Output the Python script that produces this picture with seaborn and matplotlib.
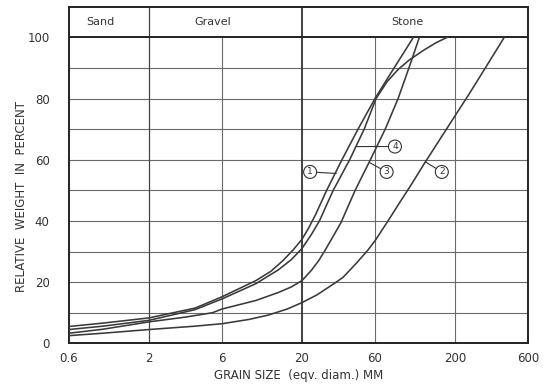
import matplotlib
matplotlib.use("Agg")
import matplotlib.pyplot as plt
import seaborn as sns
import pandas as pd

# ---- data ----
c1_x = [0.6, 1.0, 2.0, 4.0, 6.0, 10.0, 12.5, 15.0, 17.5, 20.0, 22.0, 24.5, 29.0, 36.5, 46.5, 60.0, 80.0, 107.0]
c1_y = [5.5, 6.6, 8.3, 11.5, 15.2, 20.5, 23.5, 27.0, 30.5, 34.0, 37.5, 42.0, 50.0, 60.0, 70.0, 80.0, 90.0, 100.0]

c4_x = [0.6, 1.0, 2.0, 4.0, 6.0, 10.0, 14.0, 17.0, 20.0, 23.0, 26.0, 32.0, 41.0, 51.0, 61.0, 72.0, 85.0, 100.0, 125.0, 150.0, 178.0]
c4_y = [4.5, 5.6, 7.5, 11.0, 14.5, 19.5, 24.0, 27.3, 31.0, 35.5, 40.0, 50.0, 60.0, 70.0, 80.0, 85.5, 89.5, 92.5, 95.8, 98.2, 100.0]

c3_x = [0.6, 1.0, 2.0, 3.5, 5.2, 6.0, 10.0, 14.0, 17.0, 20.0, 23.0, 25.7, 28.0, 32.0, 36.0, 44.5, 56.0, 70.0, 85.0, 100.0, 117.0]
c3_y = [3.3, 4.6, 7.0, 8.6, 10.0, 11.2, 14.0, 16.6, 18.4, 20.5, 23.8, 27.0, 30.0, 35.0, 39.5, 50.0, 60.0, 70.0, 80.0, 90.0, 100.0]

c2_x = [0.6, 1.0, 2.0, 4.0, 6.0, 9.0, 12.0, 16.0, 20.0, 25.0, 30.0, 37.0, 45.0, 54.0, 60.0, 73.0, 87.0, 104.0, 127.0, 185.0, 244.0, 314.0, 420.0]
c2_y = [2.5, 3.3, 4.5, 5.6, 6.4, 7.8, 9.2, 11.2, 13.3, 15.8, 18.4, 21.5, 26.0, 30.5, 33.5, 40.0, 46.0, 52.0, 59.0, 71.7, 81.0, 89.8, 100.0]

x_ticks = [0.6, 2, 6, 20, 60, 200, 600]
x_tick_labels = ["0.6", "2", "6", "20", "60", "200", "600"]
y_ticks = [0, 20, 40, 60, 80, 100]
zones = ["Sand", "Gravel", "Stone"]
zone_label_x = [0.96, 5.2, 98]

curve_ids = ["1", "4", "3", "2"]
label_pos = [(22.6, 56.0), (81.0, 64.3), (71.5, 56.0), (164.0, 56.0)]
label_target = [(33.5, 55.5), (45.2, 64.3), (55.5, 59.0), (128.0, 59.3)]

frames = []
for cid, xs, ys in zip(curve_ids, [c1_x, c4_x, c3_x, c2_x], [c1_y, c4_y, c3_y, c2_y]):
    frames.append(pd.DataFrame({"size": xs, "pct": ys, "curve": cid}))
df = pd.concat(frames, ignore_index=True)

sns.set_style("white")
plt.rcParams["font.family"] = ["DejaVu Sans"]
ink = "#333333"
grid_c = "#6a6a6a"

fig = plt.figure(figsize=(5.44, 3.85), dpi=100)
ax = fig.add_axes([0.1268, 0.1083, 0.8438, 0.8743])
ax.set_xscale("log")
ax.set_xlim(0.6, 600)
ax.set_ylim(0, 110)

# grid (only inside the 0-100 region)
for yv in range(10, 100, 10):
    ax.hlines(yv, 0.6, 600, color=grid_c, lw=0.8, zorder=1)
for xv in [6, 60, 200]:
    ax.vlines(xv, 0, 100, color=grid_c, lw=0.8, zorder=1)
ax.vlines(2, 0, 110, color="#444444", lw=0.9, zorder=1)
ax.vlines(20, 0, 110, color="#333333", lw=1.3, zorder=1)
ax.hlines(100, 0.6, 600, color="#222222", lw=1.4, zorder=1)

sns.lineplot(data=df, x="size", y="pct", units="curve", estimator=None,
             sort=False, color="#3a3a3a", lw=1.15, ax=ax, legend=False, zorder=3)

for cid, (tx, ty), (px, py) in zip(curve_ids, label_pos, label_target):
    ax.annotate(cid, xy=(px, py), xytext=(tx, ty), textcoords="data",
                ha="center", va="center", fontsize=6.5, color=ink,
                bbox=dict(boxstyle="circle,pad=0.22", fc="white", ec=ink, lw=0.8),
                arrowprops=dict(arrowstyle="-", color=ink, lw=0.8,
                                shrinkA=0, shrinkB=0), zorder=4)

for name, zx in zip(zones, zone_label_x):
    ax.text(zx, 105, name, ha="center", va="center", fontsize=8, color=ink)

ax.set_xticks(x_ticks)
ax.set_xticklabels(x_tick_labels)
ax.set_yticks(y_ticks)
ax.minorticks_off()
ax.tick_params(axis="both", length=0, labelsize=8.5, colors=ink)
ax.tick_params(axis="y", pad=14)
ax.tick_params(axis="x", pad=6)
for s in ax.spines.values():
    s.set_visible(True)
    s.set_color("#222222")
    s.set_linewidth(1.4)

ax.set_xlabel("GRAIN SIZE  (eqv. diam.) MM", fontsize=8.5, color=ink, labelpad=3)
ax.set_ylabel("")
fig.text(0.04, 1 - 197 / 385, "RELATIVE  WEIGHT  IN  PERCENT", rotation=90,
         ha="center", va="center", fontsize=8.5, color=ink)

fig.savefig("out.png", dpi=100, facecolor="white")
